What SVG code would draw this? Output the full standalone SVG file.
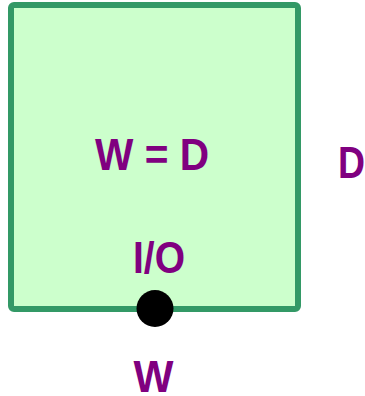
<svg xmlns="http://www.w3.org/2000/svg" width="365" height="396" viewBox="0 0 365 396">
<style>
.lbl{font-family:"Liberation Sans",Arial,sans-serif;font-weight:bold;fill:#800080;text-anchor:middle;font-size:45px}
</style>
<rect width="365" height="396" fill="#ffffff"/>
<g id="box">
<rect x="11" y="5" width="287" height="304" rx="3" fill="#ccffcc" stroke="#339966" stroke-width="6"/>
<text class="lbl" x="152" y="170" textLength="114" lengthAdjust="spacingAndGlyphs">W = D</text>
<text class="lbl" x="159" y="273" textLength="52" lengthAdjust="spacingAndGlyphs">I/O</text>
</g>
<g id="port">
<circle cx="155" cy="308.5" r="18.5" fill="#000000"/>
</g>
<g id="labels">
<text class="lbl" x="351.5" y="178" textLength="27" lengthAdjust="spacingAndGlyphs">D</text>
<text class="lbl" x="153.5" y="392" textLength="40" lengthAdjust="spacingAndGlyphs">W</text>
</g>
<g id="connectors"/>
</svg>
